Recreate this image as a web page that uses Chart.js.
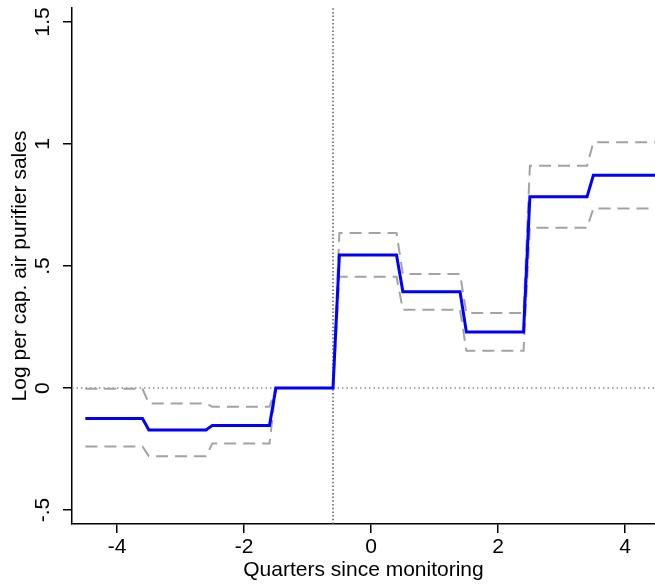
<!DOCTYPE html>
<html>
<head>
<meta charset="utf-8">
<script src="https://cdn.jsdelivr.net/npm/chart.js@4/dist/chart.umd.min.js"></script>
<style>
  html, body { margin: 0; padding: 0; background: #fff; }
  #wrap { width: 655px; height: 584px; }
</style>
</head>
<body>
<div id="wrap"><canvas id="evChart" width="655" height="584"></canvas></div>
<script>
// quarters relative to monitoring and estimates
const quarters = [-4, -3, -2, -1, 0, 1, 2, 3, 4];
const estimate = [-0.125, -0.172, -0.153, 0, 0.545, 0.395, 0.23, 0.784, 0.872];
const upperCI  = [-0.003, -0.063, -0.077, 0, 0.635, 0.467, 0.307, 0.911, 1.007];
const lowerCI  = [-0.239, -0.279, -0.227, 0, 0.456, 0.321, 0.153, 0.657, 0.736];

const xTicks = [-4, -2, 0, 2, 4];
const yTicks = [-0.5, 0, 0.5, 1, 1.5];
const yTickLabels = ['-.5', '0', '.5', '1', '1.5'];
const eventLine = -0.6;

const xMin = -4.71, xMax = 4.47;
const yMin = -0.557, yMax = 1.557;

// each quarter is held flat, then a short ramp to the next one
function steps(vals) {
    const pts = [];
    vals.forEach(function(v, i) {
        const q = quarters[i];
        const last = i === vals.length - 1;
        pts.push({ x: q - 0.5, y: v });
        pts.push({ x: last ? q + 0.5 : q + 0.4, y: v });
    });
    return pts;
}

const font = { family: '"Liberation Sans", Arial, sans-serif', size: 21 };

new Chart(document.getElementById('evChart').getContext('2d'), {
    type: 'line',
    data: {
        datasets: [
            {
                data: steps(estimate),
                borderColor: '#0000ff',
                borderWidth: 3,
                pointRadius: 0,
                tension: 0
            },
            {
                data: steps(upperCI),
                borderColor: '#a3a3a3',
                borderWidth: 2,
                borderDash: [12, 7],
                pointRadius: 0
            },
            {
                data: steps(lowerCI),
                borderColor: '#a3a3a3',
                borderWidth: 2,
                borderDash: [12, 7],
                pointRadius: 0
            },
            {
                data: [{ x: xMin, y: 0 }, { x: xMax, y: 0 }],
                borderColor: '#8a8a8a',
                borderWidth: 1.5,
                borderDash: [1.5, 3],
                pointRadius: 0
            },
            {
                data: [{ x: eventLine, y: yMin }, { x: eventLine, y: yMax }],
                borderColor: '#5a5a5a',
                borderWidth: 1.5,
                borderDash: [1.5, 2.2],
                pointRadius: 0
            }
        ]
    },
    options: {
        responsive: false,
        animation: false,
        layout: { padding: { top: 8, right: 0, left: 0, bottom: 0 } },
        plugins: { legend: { display: false }, tooltip: { enabled: false } },
        scales: {
            x: {
                type: 'linear',
                min: xMin,
                max: xMax,
                afterBuildTicks: function(s) { s.ticks = xTicks.map(v => ({ value: v })); },
                afterFit: function(s) { s.height = 60; s.paddingLeft = 0; s.paddingRight = 0; },
                border: { color: '#000', width: 1.5 },
                grid: { drawOnChartArea: false, drawTicks: true, tickLength: 9, color: '#000', lineWidth: 1.5 },
                ticks: { color: '#000', font: font, padding: 2, maxRotation: 0 },
                title: {
                    display: true,
                    text: 'Quarters since monitoring',
                    color: '#000',
                    font: font,
                    padding: { top: 0, bottom: 1 }
                }
            },
            y: {
                min: yMin,
                max: yMax,
                afterBuildTicks: function(s) { s.ticks = yTicks.map(v => ({ value: v })); },
                afterFit: function(s) { s.width = 72; s.paddingTop = 0; s.paddingBottom = 0; },
                border: { color: '#000', width: 1.5 },
                grid: { drawOnChartArea: false, drawTicks: true, tickLength: 9, color: '#000', lineWidth: 1.5 },
                ticks: {
                    color: '#000',
                    font: font,
                    padding: 5,
                    minRotation: 90,
                    maxRotation: 90,
                    crossAlign: 'center',
                    callback: function(v) {
                        const i = yTicks.indexOf(v);
                        return i >= 0 ? yTickLabels[i] : '';
                    }
                },
                title: {
                    display: true,
                    text: 'Log per cap. air purifier sales',
                    color: '#000',
                    font: font,
                    padding: { top: 8, bottom: 0 }
                }
            }
        }
    }
});
</script>
</body>
</html>
